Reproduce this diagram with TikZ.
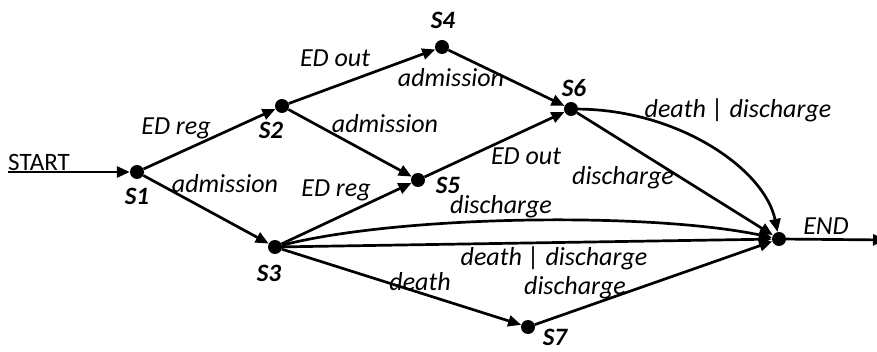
\documentclass[tikz,border=0pt]{standalone}
\usepackage{fontspec}
\setmainfont{Carlito}
\usetikzlibrary{arrows.meta}
\begin{document}
\begin{tikzpicture}[x=1pt,y=-1pt,
  state/.style={circle,fill=black,inner sep=0pt,minimum size=14pt},
  slab/.style={font=\fontsize{25}{27}\selectfont\bfseries\itshape,inner sep=0pt},
  lab/.style={font=\fontsize{26}{28}\selectfont\itshape,inner sep=0pt},
  tr/.style={line width=2.7pt,-{Triangle[length=13pt,width=11pt]}}]
\useasboundingbox (0,0) rectangle (877,352);
\clip (0,0) rectangle (877,352);

% states
\node[state] (s1) at (137,172) {};
\node[state] (s2) at (282,106) {};
\node[state] (s3) at (275,247) {};
\node[state] (s4) at (442,47) {};
\node[state] (s5) at (418,180) {};
\node[state] (s6) at (571,109) {};
\node[state] (s7) at (528,327) {};
\node[state] (end) at (779,239) {};
\coordinate (in) at (8,172);
\coordinate (out) at (886,240);

% state names
\node[slab] (n1) at (137,196) {S1};
\node[slab] (n2) at (271,130) {S2};
\node[slab] (n3) at (269,273) {S3};
\node[slab] (n4) at (443,20) {S4};
\node[slab] (n5) at (448,185) {S5};
\node[slab] (n6) at (574,88) {S6};
\node[slab] (n7) at (555,337) {S7};

% transitions
\draw[tr] (in) -- (s1);
\draw[tr] (s1) -- (s2);
\draw[tr] (s1) -- (s3);
\draw[tr] (s2) -- (s4);
\draw[tr] (s2) -- (s5);
\draw[tr] (s4) -- (s6);
\draw[tr] (s3) -- (s5);
\draw[tr] (s5) -- (s6);
\draw[tr] (s6) -- (end);
\draw[tr] (s6) .. controls (680,110) and (765,170) .. (end);
\draw[tr] (s3) .. controls (400,215) and (650,212) .. (end);
\draw[tr] (s3) -- (end);
\draw[tr] (s3) -- (s7);
\draw[tr] (s7) -- (end);
\draw[tr] (end) -- (out);

% transition labels
\node[lab,font=\fontsize{25}{27}\selectfont] (lstart) at (39,162) {START};
\node[lab] (lend) at (826,226) {END};
\node[lab] (l12) at (176,128) {ED reg};
\node[lab] (l13) at (225,184) {admission};
\node[lab] (l24) at (335,58) {ED out};
\node[lab] (l25) at (385,124) {admission};
\node[lab] (l46) at (451,78) {admission};
\node[lab] (l35) at (336,190) {ED reg};
\node[lab] (l56) at (526,156) {ED out};
\node[lab] (l6e) at (623,178) {discharge};
\node[lab] (l6c) at (738,110) {death | discharge};
\node[lab] (l3c) at (501,207) {discharge};
\node[lab] (l3e) at (554,258) {death | discharge};
\node[lab] (l37) at (420,282) {death};
\node[lab] (l7e) at (575,288) {discharge};
\end{tikzpicture}
\end{document}
